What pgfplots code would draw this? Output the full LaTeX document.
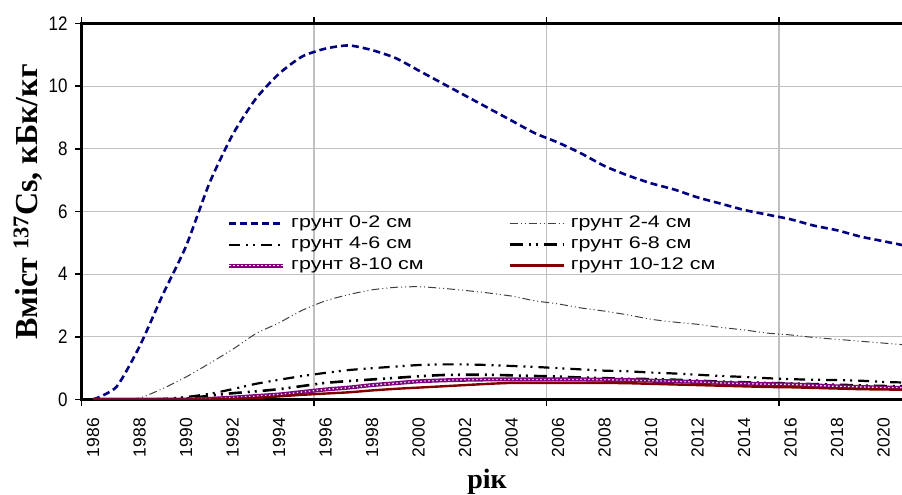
\documentclass[border=0pt]{standalone}
\usepackage{fontspec}
\setmainfont{Liberation Sans}
\newfontfamily\serifb{Liberation Serif}
\usepackage{pgfplots}
\usepackage{pgfplotstable}
\pgfplotsset{compat=1.18}
\definecolor{navyc}{RGB}{0,0,128}
\definecolor{purp}{RGB}{128,0,128}
\definecolor{maroonc}{RGB}{128,0,0}
\definecolor{gridc}{RGB}{192,192,192}
\definecolor{darkg}{RGB}{64,64,64}
\newcommand\lt[1]{\scalebox{1.28}[1]{#1}}
\pgfplotstableread{
year s02 s24 s46 s68 s810 s1012
1986 0 0 0 0 0 0
1987 0.4 0 0 0 0 0
1988 1.7 0.05 0 0 0 0
1989 3.35 0.35 0.02 0 0 0
1990 4.9 0.72 0.08 0.03 0 0
1991 6.9 1.15 0.18 0.12 0.02 0
1992 8.45 1.6 0.33 0.2 0.06 0.02
1993 9.6 2.1 0.5 0.26 0.11 0.05
1994 10.4 2.45 0.63 0.33 0.16 0.1
1995 10.95 2.85 0.75 0.43 0.24 0.15
1996 11.2 3.15 0.85 0.53 0.32 0.19
1997 11.3 3.35 0.94 0.59 0.38 0.23
1998 11.15 3.5 1.0 0.64 0.46 0.29
1999 10.9 3.58 1.05 0.69 0.52 0.34
2000 10.5 3.6 1.1 0.74 0.58 0.38
2001 10.1 3.55 1.12 0.78 0.61 0.42
2002 9.7 3.48 1.12 0.79 0.63 0.46
2003 9.3 3.4 1.1 0.79 0.64 0.5
2004 8.9 3.3 1.07 0.77 0.64 0.53
2005 8.5 3.15 1.04 0.75 0.64 0.53
2006 8.2 3.05 1.0 0.73 0.64 0.53
2007 7.85 2.92 0.96 0.7 0.64 0.53
2008 7.45 2.82 0.92 0.68 0.63 0.53
2009 7.15 2.7 0.9 0.66 0.62 0.52
2010 6.9 2.56 0.86 0.65 0.6 0.5
2011 6.7 2.47 0.83 0.63 0.58 0.48
2012 6.45 2.4 0.79 0.6 0.56 0.46
2013 6.25 2.3 0.75 0.57 0.53 0.44
2014 6.05 2.22 0.72 0.55 0.51 0.42
2015 5.9 2.12 0.68 0.53 0.49 0.4
2016 5.75 2.06 0.65 0.51 0.48 0.39
2017 5.55 1.98 0.63 0.49 0.45 0.37
2018 5.4 1.92 0.62 0.47 0.42 0.35
2019 5.2 1.86 0.6 0.45 0.4 0.33
2020 5.05 1.8 0.56 0.43 0.38 0.32
2021 4.9 1.74 0.54 0.42 0.37 0.31
}\datatable
\begin{document}
\begin{tikzpicture}[x=1pt,y=1pt]
\clip (-81.5,-95.5) rectangle (820.5,399.5);
\begin{axis}[
  at={(0,0)}, anchor=south west,
  scale only axis, width=830pt, height=376pt,
  xmin=1985.5, xmax=2021.2, ymin=0, ymax=12,
  axis line style={line width=2.4pt, black},
  xtick={1986,1988,1990,1992,1994,1996,1998,2000,2002,2004,2006,2008,2010,2012,2014,2016,2018,2020},
  minor xtick={1985.5,1995.5,2005.5,2015.5},
  xticklabel={\pgfmathprintnumber{\tick}\rule{12pt}{0pt}},
  ytick={0,2,4,6,8,10,12},
  yticklabel={\scalebox{1}[1.15]{\pgfmathprintnumber{\tick}}},
  tick align=outside, major tick length=6.5pt, minor tick length=6.5pt,
  tick style={black, line width=1.5pt},
  major x tick style={draw=none},
  xmajorgrids=false, xminorgrids=true, ymajorgrids=true,
  major grid style={gridc, line width=1.3pt},
  minor grid style={gridc, line width=1.3pt},
  /pgf/number format/assume math mode=true,
  /pgf/number format/set thousands separator={},
  yticklabel style={font=\fontsize{17}{17}\selectfont, xshift=-4pt},
  xticklabel style={font=\fontsize{17.5}{17.5}\selectfont, rotate=90, anchor=east, inner sep=0pt},
  ylabel={\serifb\bfseries Вміст \textsuperscript{137}Cs, кБк/кг},
  ylabel style={font=\fontsize{32}{32}\selectfont, at={(axis description cs:-0.0645,0.525)}, anchor=center},
  xlabel={\serifb\bfseries рік},
  xlabel style={font=\fontsize{28}{28}\selectfont, at={(axis description cs:0.4886,-0.22)}, anchor=center},
  legend columns=2,
  legend cell align=left,
  legend style={at={(axis description cs:0.1717,0.4947)}, anchor=north west, draw=none, fill=none,
    font=\fontsize{16.8}{16.8}\selectfont, column sep=6pt, row sep=5pt,
    nodes={inner sep=0pt, text height=12pt, text depth=4pt}},
  every axis plot/.append style={smooth, tension=0.4,
    legend image code/.code={\draw[##1] (0pt,0pt) -- (54pt,0pt);}},
]
\addplot[navyc, line width=2.6pt, dash pattern=on 7pt off 4pt] table[x=year,y=s02]{\datatable};
\addlegendentry{\makebox[211pt][l]{\lt{грунт 0-2 см}}}
\addplot[darkg, line width=1pt, dash pattern=on 8pt off 3pt on 1pt off 3pt on 1pt off 3pt] table[x=year,y=s24]{\datatable};
\addlegendentry{\lt{грунт 2-4 см}}
\addplot[black, line width=2.2pt, dash pattern=on 11pt off 6pt on 2pt off 5pt on 2pt off 6pt] table[x=year,y=s46]{\datatable};
\addlegendentry{\makebox[211pt][l]{\lt{грунт 4-6 см}}}
\addplot[black, line width=2.6pt, dash pattern=on 13pt off 6pt on 2pt off 5pt on 2pt off 6pt] table[x=year,y=s68]{\datatable};
\addlegendentry{\lt{грунт 6-8 см}}
\addplot[purp, line width=4pt, postaction={draw, white, line width=1.3pt, dash pattern=on 1.3pt off 2.7pt}] table[x=year,y=s810]{\datatable};
\addlegendentry{\makebox[211pt][l]{\lt{грунт 8-10 см}}}
\addplot[maroonc, line width=2.4pt] table[x=year,y=s1012]{\datatable};
\addlegendentry{\lt{грунт 10-12 см}}
\end{axis}
\end{tikzpicture}
\end{document}
